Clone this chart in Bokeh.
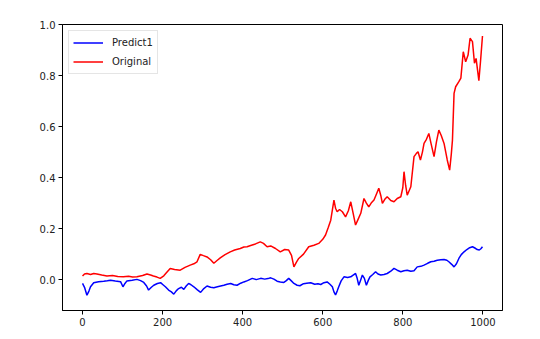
from bokeh.plotting import figure
from bokeh.models import Range1d, FixedTicker, Legend, LegendItem
from bokeh.embed import file_html
from bokeh.resources import INLINE

# ---- data ----
orig_x = [0, 5, 11, 20, 28, 36, 48, 61, 75, 88, 102, 115, 125, 136, 150, 161, 170, 177, 186, 194,
          203, 210, 219, 230, 244, 256, 269, 278, 286, 294, 302, 311, 320, 328, 336, 344, 356, 369,
          380, 394, 403, 411, 420, 432, 444, 452, 461, 470, 482, 494, 505, 515, 522, 528, 534, 540,
          552, 565, 578, 590, 600, 607, 614, 620, 628, 632, 636, 642, 649, 657, 664, 670, 676, 682,
          688, 695, 703, 709, 715, 721, 728, 734, 740, 745, 749, 755, 761, 770, 778, 786, 795, 800,
          803, 807, 811, 820, 828, 834, 838, 844, 849, 853, 859, 865, 871, 878, 884, 890, 896, 903,
          911, 917, 921, 924, 928, 932, 940, 945, 951, 957, 963, 968, 974, 979, 983, 990, 994, 999]
orig_y = [0.014, 0.022, 0.024, 0.020, 0.024, 0.022, 0.018, 0.014, 0.016, 0.012, 0.011, 0.013, 0.010,
          0.011, 0.016, 0.022, 0.018, 0.014, 0.010, 0.005, 0.015, 0.028, 0.044, 0.040, 0.037, 0.048,
          0.057, 0.062, 0.070, 0.099, 0.094, 0.089, 0.078, 0.064, 0.075, 0.085, 0.098, 0.109, 0.116,
          0.122, 0.128, 0.129, 0.134, 0.140, 0.148, 0.142, 0.129, 0.132, 0.122, 0.109, 0.118, 0.116,
          0.095, 0.050, 0.068, 0.083, 0.100, 0.129, 0.135, 0.142, 0.158, 0.175, 0.205, 0.233, 0.312,
          0.280, 0.266, 0.275, 0.266, 0.246, 0.270, 0.305, 0.260, 0.214, 0.235, 0.260, 0.318, 0.300,
          0.285, 0.300, 0.312, 0.335, 0.358, 0.330, 0.299, 0.315, 0.325, 0.310, 0.305, 0.318, 0.325,
          0.360, 0.423, 0.370, 0.331, 0.364, 0.482, 0.495, 0.501, 0.469, 0.500, 0.534, 0.550, 0.573,
          0.530, 0.482, 0.540, 0.586, 0.565, 0.534, 0.469, 0.429, 0.490, 0.547, 0.730, 0.756, 0.776,
          0.790, 0.893, 0.854, 0.880, 0.946, 0.933, 0.848, 0.867, 0.780, 0.854, 0.955]

pred_x = [0, 5, 11, 16, 20, 28, 40, 53, 62, 70, 82, 95, 101, 106, 111, 124, 136, 145, 153, 160, 165,
          172, 178, 187, 195, 201, 207, 215, 222, 228, 234, 240, 247, 253, 259, 265, 271, 278, 287,
          295, 303, 311, 320, 328, 337, 345, 353, 361, 370, 378, 386, 395, 403, 412, 424, 434, 445,
          455, 463, 470, 478, 486, 494, 503, 509, 515, 521, 528, 536, 543, 552, 560, 570, 580, 588,
          595, 603, 611, 618, 624, 628, 632, 636, 640, 646, 653, 662, 670, 676, 682, 686, 690, 695,
          699, 704, 709, 714, 718, 725, 732, 738, 745, 753, 761, 770, 778, 786, 795, 803, 811, 820,
          828, 836, 845, 853, 862, 870, 878, 886, 895, 903, 910, 915, 922, 928, 934, 940, 946, 953,
          960, 967, 974, 980, 986, 991, 995, 999]
pred_y = [-0.015, -0.030, -0.061, -0.045, -0.028, -0.012, -0.008, -0.006, -0.004, -0.002, -0.005,
          -0.008, -0.028, -0.015, -0.005, -0.002, 0.001, -0.004, -0.011, -0.025, -0.041, -0.030,
          -0.022, -0.015, -0.012, -0.020, -0.028, -0.041, -0.048, -0.057, -0.044, -0.035, -0.030,
          -0.038, -0.025, -0.015, -0.020, -0.028, -0.040, -0.050, -0.035, -0.025, -0.030, -0.032,
          -0.028, -0.025, -0.022, -0.018, -0.015, -0.020, -0.022, -0.014, -0.009, -0.004, 0.005,
          0.000, 0.005, 0.002, 0.004, 0.007, 0.002, -0.006, -0.009, -0.011, -0.004, 0.005, -0.004,
          -0.015, -0.022, -0.024, -0.016, -0.014, -0.012, -0.018, -0.016, -0.019, -0.012, -0.009,
          -0.018, -0.028, -0.048, -0.060, -0.045, -0.028, -0.005, 0.011, 0.008, 0.011, 0.018, 0.024,
          0.005, -0.022, 0.000, 0.018, 0.005, -0.022, -0.002, 0.011, 0.020, 0.031, 0.022, 0.018,
          0.020, 0.024, 0.033, 0.044, 0.037, 0.031, 0.035, 0.037, 0.033, 0.035, 0.050, 0.052, 0.057,
          0.064, 0.070, 0.072, 0.076, 0.078, 0.079, 0.076, 0.070, 0.060, 0.050, 0.062, 0.083, 0.098,
          0.109, 0.118, 0.125, 0.129, 0.124, 0.118, 0.116, 0.121, 0.129]

x_ticks = [0, 200, 400, 600, 800, 1000]
y_ticks = [0.0, 0.2, 0.4, 0.6, 0.8, 1.0]
y_tick_labels = ["0.0", "0.2", "0.4", "0.6", "0.8", "1.0"]

FONT = "DejaVu Sans"

p = figure(width=532, height=339, output_backend="svg", toolbar_location=None,
           x_range=Range1d(-50, 1049), y_range=Range1d(-0.121, 1.0),
           min_border_left=62, min_border_right=30, min_border_top=24, min_border_bottom=29)

r_pred = p.line(pred_x, pred_y, line_color="blue", line_width=1.5)
r_orig = p.line(orig_x, orig_y, line_color="red", line_width=1.5)

p.xgrid.visible = False
p.ygrid.visible = False
p.outline_line_color = "black"
p.outline_line_width = 1
p.background_fill_color = "white"
p.border_fill_color = "white"

p.xaxis.ticker = FixedTicker(ticks=x_ticks)
p.yaxis.ticker = FixedTicker(ticks=y_ticks)
p.yaxis.major_label_overrides = {t: s for t, s in zip(y_ticks, y_tick_labels)}
for ax in (p.xaxis[0], p.yaxis[0]):
    ax.axis_line_color = "black"
    ax.axis_line_width = 1
    ax.major_tick_line_color = "black"
    ax.major_tick_in = 0
    ax.major_tick_out = 4
    ax.minor_tick_line_color = None
    ax.major_label_text_font = FONT
    ax.major_label_text_font_size = "10px"
    ax.major_label_text_color = "#222222"
    ax.major_label_standoff = 3

legend = Legend(items=[LegendItem(label="Predict1", renderers=[r_pred]),
                       LegendItem(label="Original", renderers=[r_orig])],
                location="top_left")
legend.margin = 6
legend.padding = 4
legend.spacing = 4
legend.glyph_width = 30
legend.glyph_height = 15
legend.label_height = 15
legend.label_standoff = 9
legend.label_text_font = FONT
legend.label_text_font_size = "10px"
legend.label_text_color = "#222222"
legend.border_line_color = "#cccccc"
legend.border_line_width = 1
legend.background_fill_alpha = 0.8
p.add_layout(legend)

open("out.html", "w").write(file_html(p, INLINE))
